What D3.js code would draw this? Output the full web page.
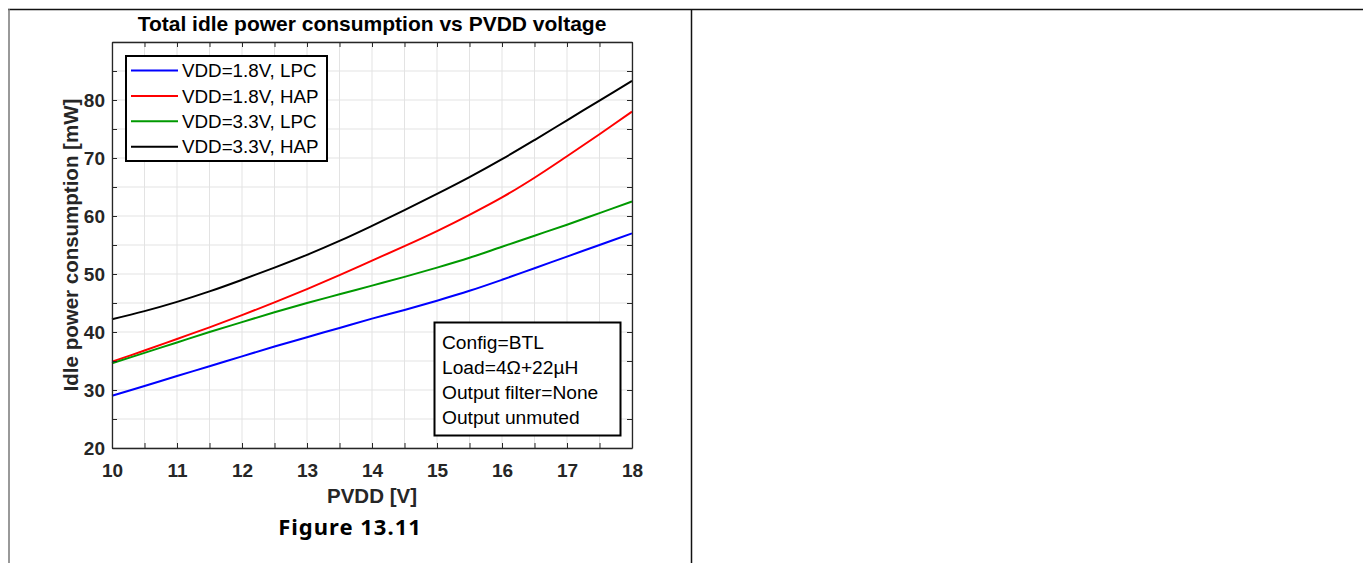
<!DOCTYPE html>
<html><head><meta charset="utf-8">
<script src="https://cdn.jsdelivr.net/npm/d3@7"></script>
<style>body{margin:0;background:#fff}svg{display:block}</style>
</head><body>
<svg id="c" width="1363" height="563"></svg>
<script>
const pvdd = [10,10.5,11,11.5,12,12.5,13,13.5,14,14.5,15,15.5,16,16.5,17,17.5,18];
const lpc18 = [29.0,30.7,32.4,34.1,35.8,37.5,39.1,40.7,42.3,43.8,45.4,47.1,49.0,51.0,53.0,55.0,57.0];
const hap18 = [34.9,36.8,38.8,40.8,42.9,45.1,47.4,49.8,52.3,54.8,57.4,60.2,63.2,66.6,70.3,74.1,78.0];
const lpc33 = [34.6,36.4,38.2,40.0,41.7,43.4,45.0,46.5,48.0,49.5,51.1,52.8,54.7,56.6,58.5,60.5,62.5];
const hap33 = [42.2,43.6,45.2,47.0,49.0,51.1,53.3,55.7,58.3,61.0,63.8,66.7,69.8,73.1,76.5,79.9,83.3];
const seriesNames = ["VDD=1.8V, LPC","VDD=1.8V, HAP","VDD=3.3V, LPC","VDD=3.3V, HAP"];
const seriesColors = ["#0000ff","#ff0000","#009900","#000000"];
const seriesValues = [lpc18, hap18, lpc33, hap33];
const xTicks = [10,11,12,13,14,15,16,17,18];
const yTicks = [20,30,40,50,60,70,80];
const notes = ["Config=BTL","Load=4\u03A9+22\u00B5H","Output filter=None","Output unmuted"];

const svg = d3.select("#c");
const L=112,R=632,T=42,B=448;
const x = d3.scaleLinear().domain([10,18]).range([L,R]);
const y = d3.scaleLinear().domain([20,90]).range([B,T]);

// page table borders
svg.append("line").attr("x1",8).attr("x2",1363).attr("y1",9.5).attr("y2",9.5).attr("stroke","#111").attr("stroke-width",1.5);
svg.append("line").attr("x1",9).attr("x2",9).attr("y1",9).attr("y2",563).attr("stroke","#777").attr("stroke-width",1.5);
svg.append("line").attr("x1",691.5).attr("x2",691.5).attr("y1",9).attr("y2",563).attr("stroke","#111").attr("stroke-width",1.5);

const font = "'Liberation Sans', Arial, Helvetica, sans-serif";
const axisCol = "#262626";

// grid
const xMinor = d3.range(10,18.01,0.5);
const yMinor = d3.range(20,90.01,5);
const g = svg.append("g");
g.selectAll(".vg").data(xMinor).join("line").attr("x1",d=>x(d)).attr("x2",d=>x(d)).attr("y1",T).attr("y2",B).attr("stroke","#e3e3e3").attr("stroke-width",1);
g.selectAll(".hg").data(yMinor).join("line").attr("x1",L).attr("x2",R).attr("y1",d=>y(d)).attr("y2",d=>y(d)).attr("stroke","#e3e3e3").attr("stroke-width",1);

// lines
const line = d3.line().x((d,i)=>x(pvdd[i])).y(d=>y(d)).curve(d3.curveCatmullRom);
seriesValues.forEach((vals,k)=>{
  svg.append("path").datum(vals).attr("d",line).attr("fill","none").attr("stroke",seriesColors[k]).attr("stroke-width",2);
});

// axes (ticks inward on all sides)
const tl = 5;
const xb = svg.append("g").attr("transform",`translate(0,${B})`).call(d3.axisBottom(x).tickValues(xMinor).tickSizeInner(-tl).tickSizeOuter(0).tickFormat(d=>xTicks.includes(d)?d3.format("d")(d):""));
const xt = svg.append("g").attr("transform",`translate(0,${T})`).call(d3.axisTop(x).tickValues(xMinor).tickSizeInner(-tl).tickSizeOuter(0).tickFormat(""));
const yl = svg.append("g").attr("transform",`translate(${L},0)`).call(d3.axisLeft(y).tickValues(yMinor).tickSizeInner(-tl).tickSizeOuter(0).tickFormat(d=>yTicks.includes(d)?d3.format("d")(d):""));
const yr = svg.append("g").attr("transform",`translate(${R},0)`).call(d3.axisRight(y).tickValues(yMinor).tickSizeInner(-tl).tickSizeOuter(0).tickFormat(""));
[xb,xt,yl,yr].forEach(a=>{
  a.select(".domain").attr("stroke",axisCol).attr("stroke-width",1.3);
  a.selectAll(".tick line").attr("stroke",axisCol).attr("stroke-width",1);
  a.selectAll("text").attr("fill",axisCol).style("font-family",font).style("font-weight","bold").style("font-size","19px");
});
xb.selectAll("text").attr("dy","0").attr("y",28.5);
yl.selectAll("text").attr("x",-7);

// titles
svg.append("text").attr("x",372).attr("y",31).attr("text-anchor","middle").style("font-family",font).style("font-weight","bold").style("font-size","21px").attr("fill","#000").text("Total idle power consumption vs PVDD voltage");
svg.append("text").attr("x",372).attr("y",503).attr("text-anchor","middle").style("font-family",font).style("font-weight","bold").style("font-size","20.5px").attr("fill",axisCol).text("PVDD [V]");
svg.append("text").attr("transform",`translate(78,${(T+B)/2}) rotate(-90)`).attr("text-anchor","middle").style("font-family",font).style("font-weight","bold").style("font-size","20.5px").attr("fill",axisCol).text("Idle power consumption [mW]");
svg.append("text").attr("x",350).attr("y",535).attr("text-anchor","middle").style("font-family","'Noto Sans', 'Open Sans', sans-serif").style("font-weight","bold").style("font-size","22px").style("letter-spacing","1px").attr("fill","#000").text("Figure 13.11");

// legend
const lg = svg.append("g");
lg.append("rect").attr("x",126).attr("y",56).attr("width",201).attr("height",105).attr("fill","#fff").attr("stroke","#000").attr("stroke-width",2);
seriesNames.forEach((n,k)=>{
  const yy = 70.5 + k*25.4;
  lg.append("line").attr("x1",131).attr("x2",178).attr("y1",yy).attr("y2",yy).attr("stroke",seriesColors[k]).attr("stroke-width",2);
  lg.append("text").attr("x",182).attr("y",yy).attr("dy","0.36em").style("font-family",font).style("font-size","18.8px").attr("fill","#000").text(n);
});

// note box
const nb = svg.append("g");
nb.append("rect").attr("x",434.5).attr("y",322.5).attr("width",186).attr("height",113).attr("fill","#fff").attr("stroke","#000").attr("stroke-width",2);
notes.forEach((n,k)=>{
  nb.append("text").attr("x",442).attr("y",342.5+k*24.8).attr("dy","0.36em").style("font-family",font).style("font-size","19.2px").attr("fill","#000").text(n);
});
</script>
</body></html>
